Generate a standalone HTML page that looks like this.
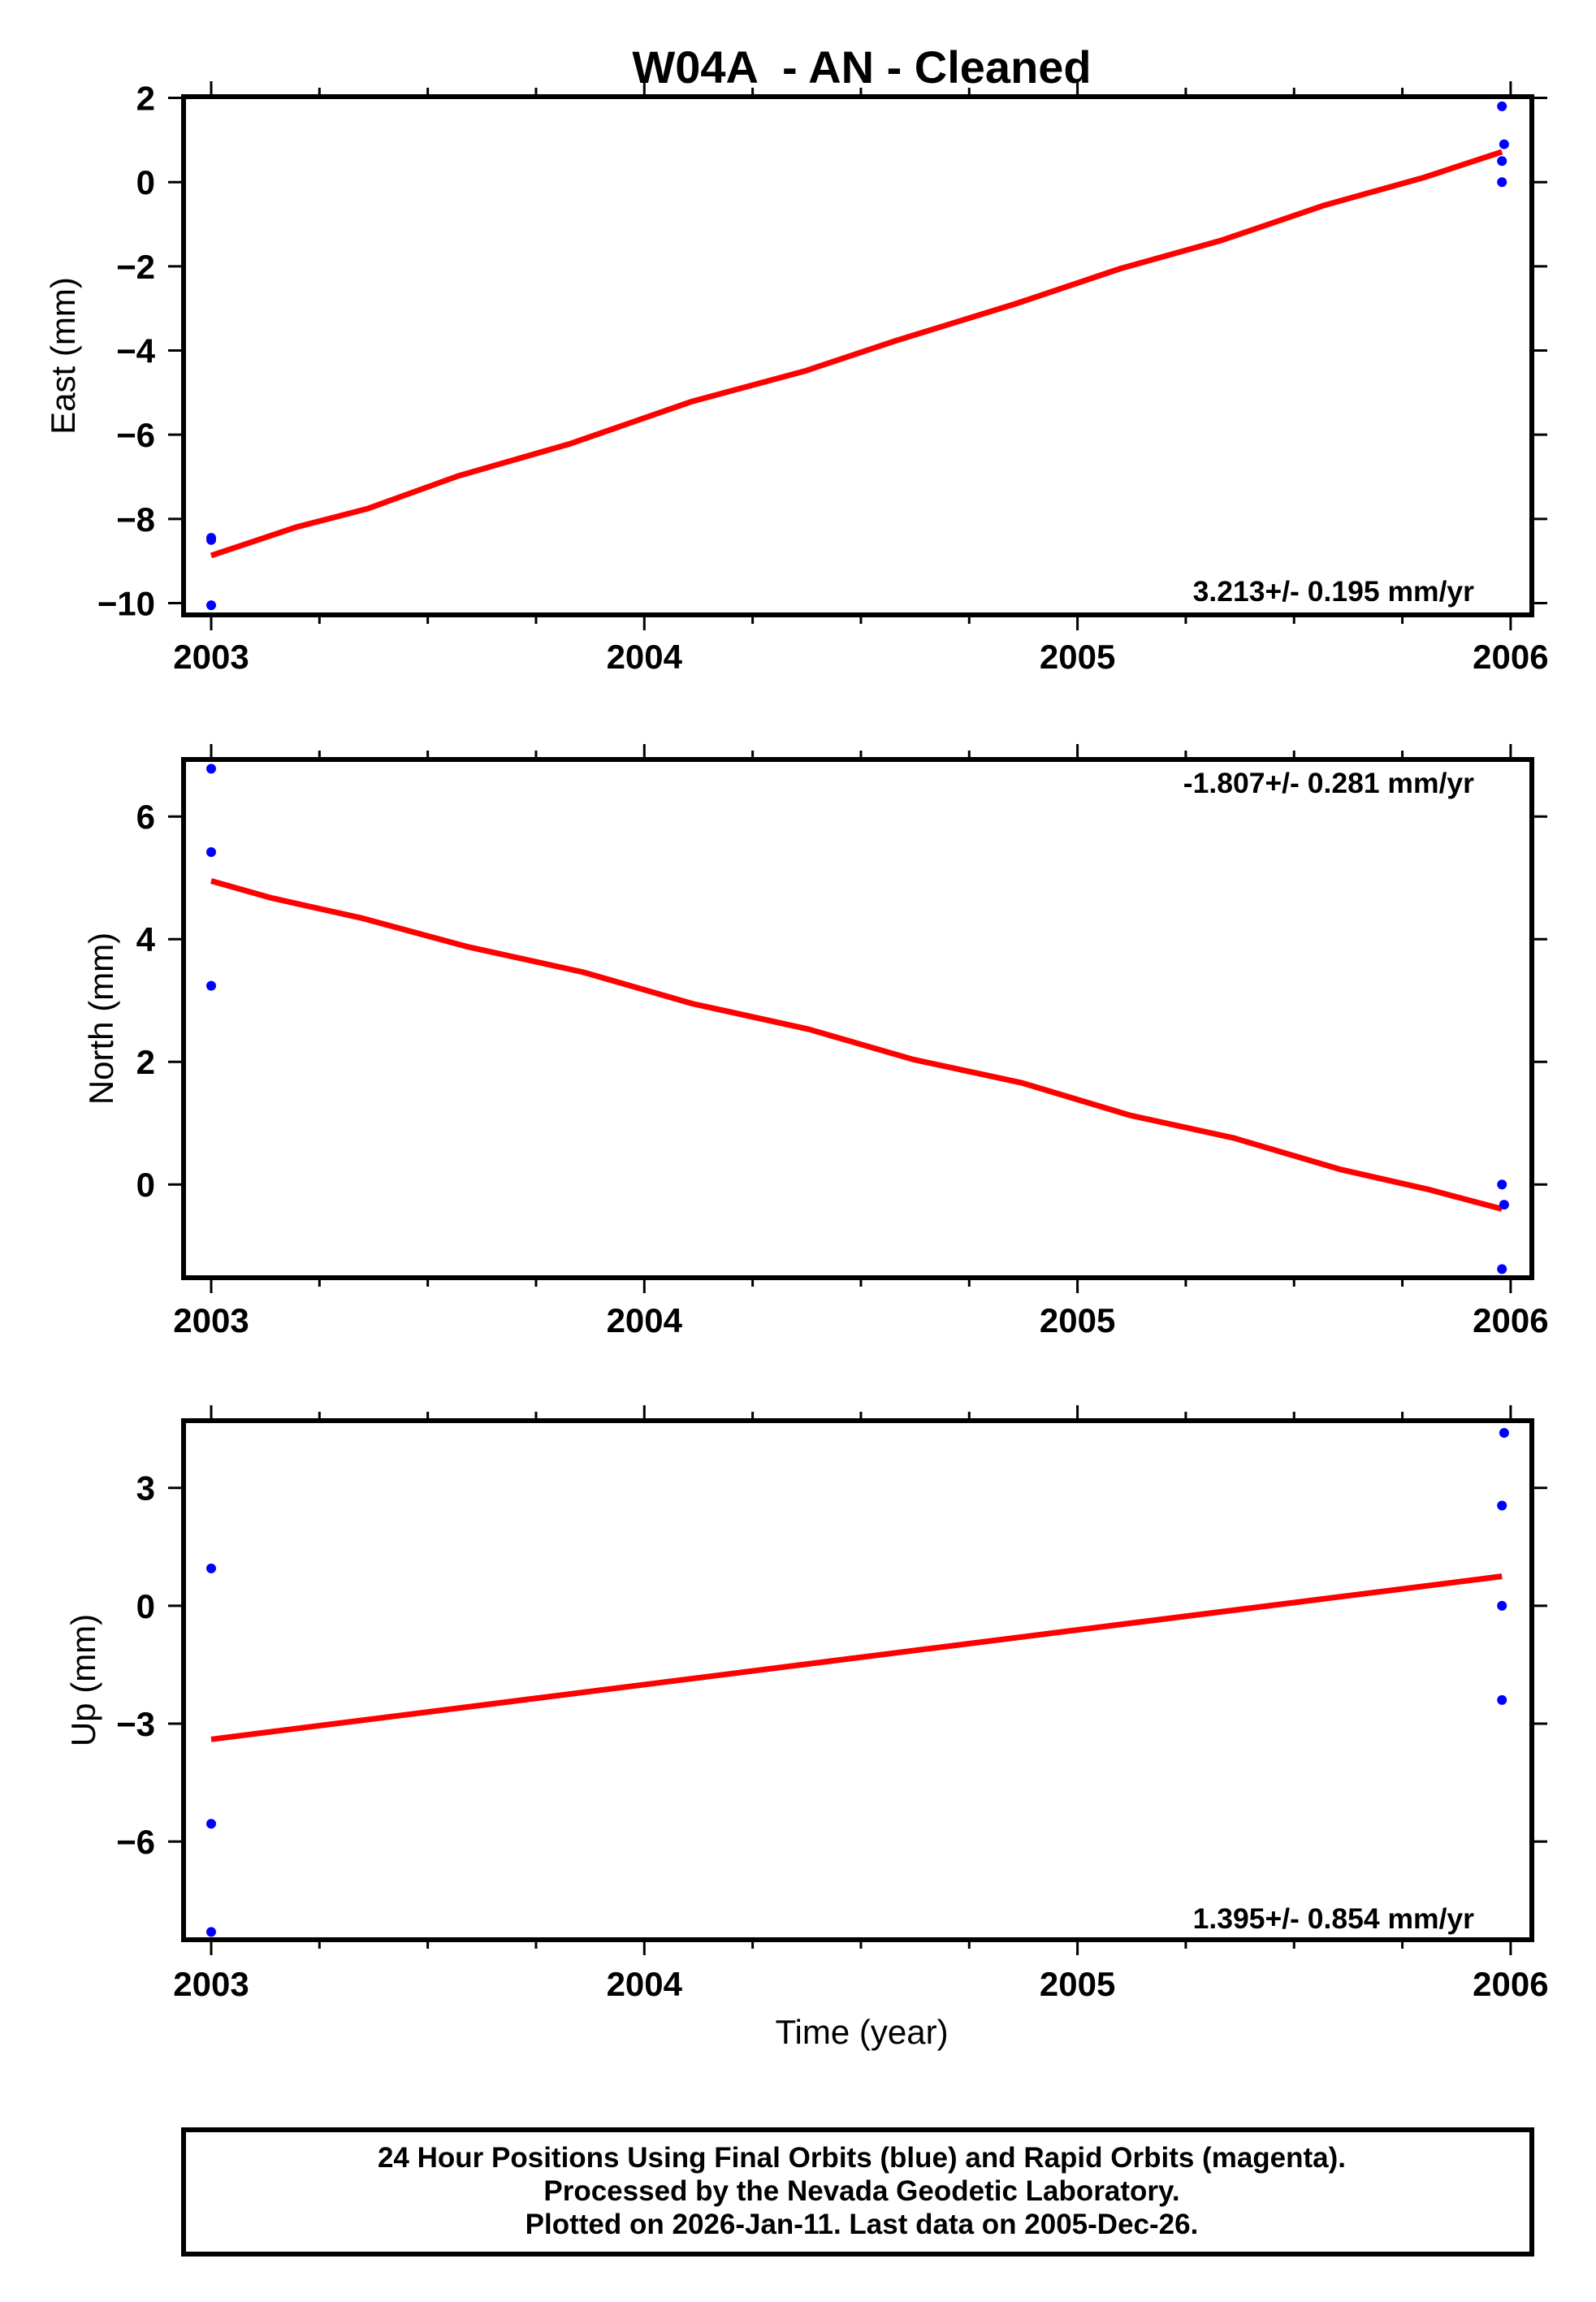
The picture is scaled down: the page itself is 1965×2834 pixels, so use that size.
<!DOCTYPE html>
<html><head><meta charset="utf-8"><style>
body{margin:0;background:#fff}
svg{display:block;font-family:"Liberation Sans",Arial,sans-serif}
</style></head><body>
<svg id="chart" width="1965" height="2834" viewBox="0 0 1965 2834" xmlns="http://www.w3.org/2000/svg">
<text x="1061" y="102" text-anchor="middle" font-size="56" font-weight="bold" style="white-space:pre">W04A  - AN - Cleaned</text>
<g id="panels"></g>
<text x="1061" y="2516" text-anchor="middle" font-size="42">Time (year)</text>
<rect x="226" y="2622" width="1660" height="153" fill="none" stroke="#000" stroke-width="6"/>
<text x="1061" y="2668" text-anchor="middle" font-size="35" font-weight="bold">24 Hour Positions Using Final Orbits (blue) and Rapid Orbits (magenta).</text>
<text x="1061" y="2709" text-anchor="middle" font-size="35" font-weight="bold">Processed by the Nevada Geodetic Laboratory.</text>
<text x="1061" y="2750" text-anchor="middle" font-size="35" font-weight="bold">Plotted on 2026-Jan-11. Last data on 2005-Dec-26.</text>
</svg>
<script>
// year offsets from 2003
const xTickLabels = ['2003','2004','2005','2006'];
const eastFitX = [0,0.195,0.36,0.57,0.83,1.11,1.37,1.58,1.86,2.10,2.33,2.57,2.80,2.98];
const eastFitY = [-8.87,-8.2,-7.76,-6.98,-6.21,-5.21,-4.49,-3.77,-2.88,-2.05,-1.39,-0.55,0.11,0.72];
const eastPtX = [0,0,0,2.98,2.985,2.98,2.98];
const eastPtY = [-8.5,-8.45,-10.05,1.8,0.9,0.5,0.0];
const eastTicks = [2,0,-2,-4,-6,-8,-10];
const northFitX = [0,0.14,0.35,0.59,0.86,1.11,1.38,1.62,1.87,2.12,2.36,2.61,2.81,2.98];
const northFitY = [4.95,4.67,4.34,3.88,3.46,2.95,2.53,2.04,1.66,1.13,0.76,0.24,-0.08,-0.4];
const northPtX = [0,0,0,2.98,2.985,2.98];
const northPtY = [6.78,5.42,3.24,0.0,-0.33,-1.38];
const northTicks = [6,4,2,0];
const upFitX = [0,2.98];
const upFitY = [-3.4,0.75];
const upPtX = [0,0,0,2.985,2.98,2.98,2.98];
const upPtY = [0.95,-5.55,-8.3,4.4,2.55,0.0,-2.4];
const upTicks = [3,0,-3,-6];

const NS='http://www.w3.org/2000/svg';
const root=document.getElementById('panels');
function mk(tag,attrs,parent){const e=document.createElementNS(NS,tag);for(const k in attrs)e.setAttribute(k,attrs[k]);(parent||root).appendChild(e);return e;}
const X0=226,X1=1886;
function xs(t){return 260+t*533.3;}
const panels=[
 {name:'east',title:'East (mm)',top:119,bot:757,ymax:2.03,ymin:-10.28,ticks:eastTicks,fx:eastFitX,fy:eastFitY,px:eastPtX,py:eastPtY,slope:'3.213+/- 0.195 mm/yr',sy:740,tx:77,lab:823},
 {name:'north',title:'North (mm)',top:935,bot:1573,ymax:6.93,ymin:-1.52,ticks:northTicks,fx:northFitX,fy:northFitY,px:northPtX,py:northPtY,slope:'-1.807+/- 0.281 mm/yr',sy:976,tx:124,lab:1640},
 {name:'up',title:'Up (mm)',top:1749,bot:2388,ymax:4.71,ymin:-8.5,ticks:upTicks,fx:upFitX,fy:upFitY,px:upPtX,py:upPtY,slope:'1.395+/- 0.854 mm/yr',sy:2374,tx:102,lab:2457}
];
panels.forEach(p=>{
 const g=mk('g',{});
 
 
 const ys=v=>p.top+(p.ymax-v)/(p.ymax-p.ymin)*(p.bot-p.top);
 for(let i=0;i<=12;i++){
  const t=i/4,x=xs(t),L=(i%4===0)?19:11;
  const a=mk('line',{x1:x,x2:x,y1:p.top-L,y2:p.top,stroke:'#000','stroke-width':3},g);
  
  
  const b=mk('line',{x1:x,x2:x,y1:p.bot,y2:p.bot+L,stroke:'#000','stroke-width':3},g);
  
  
 }
 xTickLabels.forEach((s,i)=>{
  const t=mk('text',{x:xs(i),y:p.lab,'text-anchor':'middle','font-size':42,'font-weight':'bold'},g);
  t.textContent=s;
  
  
 });
 p.ticks.forEach(v=>{
  const y=ys(v);
  const a=mk('line',{x1:X0-19,x2:X0,y1:y,y2:y,stroke:'#000','stroke-width':3},g);
  
  
  const b=mk('line',{x1:X1,x2:X1+19,y1:y,y2:y,stroke:'#000','stroke-width':3},g);
  
  
  const t=mk('text',{x:191,y:y+15,'text-anchor':'end','font-size':42,'font-weight':'bold'},g);
  t.textContent=(v<0?'\u2212':'')+Math.abs(v);
  
  
 });
 const cy=(p.top+p.bot)/2;
 const tt=mk('text',{x:p.tx+15,y:cy,'text-anchor':'middle','font-size':42,transform:`rotate(-90 ${p.tx+15} ${cy})`},g);
 tt.textContent=p.title;
 
 
 let d='';p.fx.forEach((t,i)=>{d+=(i?'L':'M')+xs(t).toFixed(1)+' '+ys(p.fy[i]).toFixed(1);});
 const ln=mk('path',{d:d,fill:'none',stroke:'#f00','stroke-width':7,'stroke-linejoin':'round'},g);
 
 
 p.px.forEach((t,i)=>{
  const c=mk('circle',{cx:xs(t),cy:ys(p.py[i]),r:6,fill:'#00f'},g);
  
  
 });
 const fr=mk('rect',{x:X0,y:p.top,width:X1-X0,height:p.bot-p.top,fill:'none',stroke:'#000','stroke-width':6},g);
 
 
 const st=mk('text',{x:1815,y:p.sy,'text-anchor':'end','font-size':35.5,'font-weight':'bold'},g);
 st.textContent=p.slope;
 
 
});
</script>
</body></html>
